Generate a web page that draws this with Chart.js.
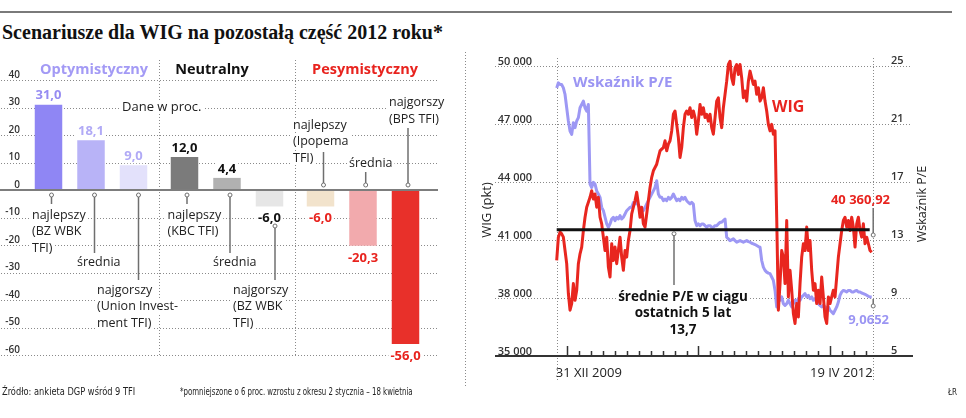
<!DOCTYPE html>
<html>
<head>
<meta charset="utf-8">
<script src="https://cdn.jsdelivr.net/npm/chart.js@4.4.0/dist/chart.umd.min.js"></script>
<style>
  body { margin: 0; width: 966px; height: 418px; overflow: hidden; background: #fff; font-family: 'Open Sans', sans-serif; }
  #rule { position: absolute; left: 0; top: 11px; width: 952px; height: 2px; background: #7a7a7a; }
  #title { position: absolute; left: 2px; top: 21px; font: bold 20px 'Liberation Serif', serif; color: #111; white-space: nowrap; }
  #left { position: absolute; left: 0; top: 0; }
  #right { position: absolute; left: 466px; top: 0; }
  .foot { position: absolute; top: 386px; font: 10px 'Liberation Sans Narrow', 'DejaVu Sans Condensed', sans-serif; color: #222; white-space: nowrap; transform-origin: 0 50%; }
</style>
</head>
<body>
<div id="rule"></div>
<div id="title">Scenariusze dla WIG na pozostałą część 2012 roku*</div>
<canvas id="left" width="466" height="418" style="width:466px;height:418px"></canvas>
<canvas id="right" width="500" height="418" style="width:500px;height:418px"></canvas>
<div class="foot" style="left:2px;transform:scaleX(0.92)">Źródło: ankieta DGP wśród 9 TFI</div>
<div class="foot" style="left:180px;transform:scaleX(0.78)">*pomniejszone o 6 proc. wzrostu z okresu 2 stycznia – 18 kwietnia</div>
<div class="foot" style="left:948px;font-size:8px;top:388px">ŁR</div>
<script>
// --- prognozy TFI (proc.) ---
const scenarios = ['Optymistyczny', 'Neutralny', 'Pesymistyczny'];
const bestValues = [31.0, 12.0, -6.0];
const averageValues = [18.1, 4.4, -20.3];
const worstValues = [9.0, -6.0, -56.0];
const bestFunds = [['najlepszy', '(BZ WBK', 'TFI)'], ['najlepszy', '(KBC TFI)'], ['najlepszy', '(Ipopema', 'TFI)']];
const averageFunds = [['średnia'], ['średnia'], ['średnia']];
const worstFunds = [['najgorszy', '(Union Invest-', 'ment TFI)'], ['najgorszy', '(BZ WBK', 'TFI)'], ['najgorszy', '(BPS TFI)']];
const forecastTicks = [40, 30, 20, 10, 0, -10, -20, -30, -40, -50, -60];

// --- WIG i P/E, 31 XII 2009 - 19 IV 2012 ---
const wigValues = [
  39940, 41140, 41400, 41310, 41140, 40450, 39770, 38230, 37370, 37710,
  38740, 37880, 38400, 39770, 40280, 40630, 41480, 42170, 42690, 42940,
  43200, 43540, 43110, 43370, 42690, 43200, 42170, 41830, 41140, 40450,
  41140, 39600, 39080, 40800, 39940, 40630, 39770, 40450, 41140, 40110,
  39430, 40450, 40110, 40970, 41480, 42340, 42690, 43030, 43460, 42860,
  42170, 42690, 41830, 41660, 42340, 43030, 43710, 44230, 44570, 44740,
  44910, 45260, 45600, 45690, 45770, 46120, 45600, 45950, 46120, 46630,
  47490, 47660, 46970, 46290, 45260, 45770, 46800, 47490, 47660, 47490,
  47830, 47320, 47660, 47320, 46460, 47140, 48000, 47490, 47830, 47320,
  47490, 47140, 47490, 46800, 46460, 47320, 48170, 48340,
  47320, 46800, 47830, 48520, 49200, 50060, 50230, 49370, 49030, 49890,
  50060, 49550, 50060, 49370, 48350, 48690, 48170, 49200, 49720, 49370,
  49030, 49200, 48520, 48860, 48170, 48350, 48860, 48170, 47660, 46970,
  46630, 46970, 46460, 46630, 42170, 37370, 38740, 40450, 40110, 38740,
  42000, 38050, 39430, 38400, 37200, 36680, 37710, 37020, 38740, 40110,
  40800, 40450, 41660, 40450, 40970, 39430, 38400, 38740, 37710, 38400,
  37710, 39080, 38050, 37020, 36680, 38050, 37710, 38050, 38400, 38050,
  39080, 40110, 40800, 41480, 42000, 42170, 41660, 42000, 41480, 42170,
  41660, 40630, 41830, 42170, 41480, 41140, 41830, 40800, 41140, 40800,
  40450, 40360.92
];
const peValues = [
  23.47, 23.82, 23.70, 23.70, 23.47, 23.02, 22.10, 21.19, 20.50, 20.27,
  21.07, 20.73, 21.19, 21.42, 22.10, 22.33, 22.56, 22.10, 21.87, 22.33,
  16.84, 16.61, 16.96, 16.84, 16.38, 16.16, 15.93, 15.24, 15.01, 14.56,
  14.10, 13.87, 14.10, 14.44, 14.56, 14.33, 14.56, 14.44, 14.67, 14.44,
  14.56, 14.78, 15.01, 15.13, 15.24, 15.24, 15.58, 15.47, 15.58, 15.36,
  15.24, 15.13, 15.01, 15.24, 15.47, 15.70, 15.93, 16.16, 16.38, 16.61,
  17.07, 16.16, 15.93, 15.93, 15.70, 15.81, 15.70, 15.93, 15.81, 15.93,
  16.16, 15.93, 15.70, 15.81, 15.70, 15.93, 15.81, 15.93, 15.70, 15.58,
  15.47, 15.58, 15.47, 14.33, 13.98, 14.10, 13.98, 14.10, 14.10, 13.98,
  13.87, 13.98, 13.98, 13.87, 13.87, 13.98, 13.98, 14.10,
  14.21, 14.21, 14.33, 14.44, 13.18, 13.07, 12.95, 13.00, 13.07, 12.95,
  12.84, 12.90, 12.95, 12.90, 12.84, 12.90, 12.95, 12.88, 12.84, 12.77,
  12.73, 12.68, 12.61, 12.54, 12.50, 11.58, 11.12, 10.90, 10.78, 10.71,
  10.67, 10.44, 10.21, 9.52, 8.38, 8.95, 8.84, 9.07, 8.61, 8.49,
  8.61, 8.84, 8.61, 8.38, 8.61, 8.84, 8.72, 8.95, 8.84, 9.07,
  9.18, 9.30, 9.07, 9.18, 8.95, 9.07, 8.84, 8.95, 8.72, 8.61,
  8.49, 8.38, 8.49, 8.38, 8.27, 8.38, 8.15, 8.04, 7.92, 8.15,
  8.38, 8.72, 9.18, 9.41, 9.52, 9.48, 9.41, 9.52, 9.52, 9.41,
  9.41, 9.48, 9.52, 9.41, 9.41, 9.34, 9.30, 9.25, 9.18, 9.11,
  9.07, 9.0652
];
const wigTicks = [35000, 38000, 41000, 44000, 47000, 50000];
const peTicks = [5, 9, 13, 17, 21, 25];
const avgPE = 13.7;
const dateLabels = ['31 XII 2009', '19 IV 2012'];

const plFixed = (v, d) => v.toFixed(d).replace('.', ',');
const plThousands = v => {
  const parts = v.toFixed(v % 1 ? 2 : 0).split('.');
  return parts[0].replace(/\B(?=(\d{3})+(?!\d))/g, ' ') + (parts[1] ? ',' + parts[1] : '');
};

function drawText(ctx, text, x, y, font, color, align, bg) {
  ctx.font = font;
  ctx.textAlign = align || 'left';
  ctx.textBaseline = 'middle';
  if (bg) {
    const w = ctx.measureText(text).width;
    const left = align === 'center' ? x - w / 2 : align === 'right' ? x - w : x;
    ctx.fillStyle = '#fff';
    ctx.fillRect(left - 2, y - 7, w + 4, 14);
  }
  ctx.fillStyle = color;
  ctx.fillText(text, x, y);
}

function dotted(ctx, x1, y1, x2, y2) {
  ctx.beginPath();
  ctx.setLineDash([1, 2]);
  ctx.lineWidth = 1;
  ctx.strokeStyle = '#8a8a8a';
  ctx.moveTo(x1, y1);
  ctx.lineTo(x2, y2);
  ctx.stroke();
  ctx.setLineDash([]);
}

function connector(ctx, x, yCircle, yEnd) {
  ctx.beginPath();
  ctx.strokeStyle = '#6f6f6f';
  ctx.lineWidth = 1.5;
  const dir = yEnd > yCircle ? 1 : -1;
  ctx.moveTo(x, yCircle + dir * 2);
  ctx.lineTo(x, yEnd);
  ctx.stroke();
  ctx.beginPath();
  ctx.lineWidth = 1;
  ctx.arc(x, yCircle, 2, 0, Math.PI * 2);
  ctx.fillStyle = '#fff';
  ctx.fill();
  ctx.stroke();
}

// ---------- lewy wykres: scenariusze ----------
const barColors = [
  ['#8f86f4', '#7b7b7b', '#f2e3cc'],
  ['#b8b3f7', '#b1b1b1', '#f2aaad'],
  ['#e3e1fb', '#e6e6e6', '#e8302a']
];
const valueColors = [
  ['#968cf2', '#111', '#e8231e'],
  ['#b1aaf6', '#111', '#e8231e'],
  ['#b1aaf6', '#111', '#e8231e']
];
const headerColors = ['#a39af5', '#111', '#e8231e'];
const headerShift = [3, -15, 2];
// rozmieszczenie opisów funduszy (względem środka słupka)
const noteLayout = [
  [{tx: -16.5, ty: [215, 231.5, 248], cx: 3, from: 195, to: 204},
   {tx: -17, ty: [215, 231.5], cx: 2.5, from: 195, to: 204},
   {tx: -27.5, ty: [125, 141.5, 158], cx: 3, from: 185, to: 152}],
  [{tx: -14, ty: [262], cx: 3.5, from: 195, to: 253},
   {tx: -14, ty: [262], cx: 3, from: 195, to: 253},
   {tx: -14, ty: [163], cx: 2.7, from: 185, to: 172}],
  [{tx: -36.5, ty: [290, 306.7, 323.3], cx: 5, from: 195, to: 280},
   {tx: -36.5, ty: [290, 306.7, 323.3], cx: 5.5, from: 226, to: 280},
   {tx: -16.5, ty: [102, 119], cx: 2.5, from: 185, to: 128}]
];
const fundNotes = [bestFunds, averageFunds, worstFunds];

const leftDecor = {
  id: 'leftDecor',
  beforeDatasetsDraw(chart) {
    const {ctx, scales: {x, y}} = chart;
    ctx.save();
    forecastTicks.forEach(v => {
      if (v === 0) return;
      const py = Math.round(y.getPixelForValue(v)) + 0.5;
      dotted(ctx, 1, py, 438, py);
    });
    for (let i = 0; i < scenarios.length - 1; i++) {
      const sx = Math.round((x.getPixelForValue(i) + x.getPixelForValue(i + 1)) / 2) + 0.5;
      dotted(ctx, sx, 60, sx, 357);
    }
    // separator between the two panels
    dotted(ctx, 465.5, 52, 465.5, 386);
    ctx.restore();
  },
  afterDatasetsDraw(chart) {
    const {ctx, scales: {x, y}} = chart;
    ctx.save();
    const y0 = Math.round(y.getPixelForValue(0));
    ctx.beginPath();
    ctx.strokeStyle = '#7d7d7d';
    ctx.lineWidth = 2;
    ctx.moveTo(0, y0);
    ctx.lineTo(438, y0);
    ctx.stroke();

    drawText(ctx, 'Dane w proc.', 122, 107, '13px "Open Sans"', '#222', 'left', true);

    scenarios.forEach((s, i) => {
      drawText(ctx, s, x.getPixelForValue(i) + headerShift[i], 70, 'bold 14.5px "Open Sans"', headerColors[i], 'center', true);
    });

    chart.data.datasets.forEach((ds, d) => {
      const meta = chart.getDatasetMeta(d);
      meta.data.forEach((bar, i) => {
        const v = ds.data[i];
        const ly = v >= 0 ? bar.y - 9 : bar.y + 12;
        drawText(ctx, plFixed(v, 1), bar.x, ly, 'bold 13px "Open Sans"', valueColors[d][i], 'center', true);
        const lay = noteLayout[d][i];
        connector(ctx, bar.x + lay.cx, lay.from, lay.to);
        fundNotes[d][i].forEach((line, k) => {
          drawText(ctx, line, bar.x + lay.tx, lay.ty[k], '12.5px "Open Sans"', '#222', 'left', true);
        });
      });
    });
    ctx.restore();
  }
};

new Chart(document.getElementById('left'), {
  type: 'bar',
  data: {
    labels: scenarios,
    datasets: [
      {label: 'najlepszy', data: bestValues, backgroundColor: barColors[0], categoryPercentage: 0.9375, barPercentage: 0.647},
      {label: 'średnia', data: averageValues, backgroundColor: barColors[1], categoryPercentage: 0.9375, barPercentage: 0.647},
      {label: 'najgorszy', data: worstValues, backgroundColor: barColors[2], categoryPercentage: 0.9375, barPercentage: 0.647}
    ]
  },
  options: {
    responsive: false,
    animation: false,
    events: [],
    devicePixelRatio: 1,
    layout: {padding: {left: 4, right: 35, top: 80, bottom: 63}},
    plugins: {legend: {display: false}, tooltip: {enabled: false}},
    scales: {
      x: {display: false},
      y: {
        min: -60, max: 40,
        afterBuildTicks: s => { s.ticks = forecastTicks.map(v => ({value: v})); },
        afterFit: s => { s.width = 19; },
        grid: {display: false, drawTicks: false},
        border: {display: false},
        ticks: {color: '#333', padding: 3, labelOffset: -5, font: {family: 'Open Sans', size: 10, weight: '600'}, callback: v => String(v)}
      }
    }
  },
  plugins: [leftDecor]
});

// ---------- prawy wykres: WIG i P/E ----------
const sampleLabels = wigValues.map((_, i) => i);
const monthTickStart = 6.2, monthTickStep = 7.17, monthTickCount = 26;

const rightDecor = {
  id: 'rightDecor',
  beforeDatasetsDraw(chart) {
    const {ctx, chartArea, scales: {x, y, y1}} = chart;
    ctx.save();
    wigTicks.forEach((v, i) => {
      const py = Math.round(y.getPixelForValue(v)) + 0.5;
      if (i > 0) dotted(ctx, 29, py, 444, py);
      drawText(ctx, plThousands(v), 66, py - 5, '600 11px "Open Sans"', '#333', 'right');
      drawText(ctx, String(peTicks[i]), 425, y1.getPixelForValue(peTicks[i]) - 5, '600 11px "Open Sans"', '#333', 'left');
    });
    const lx = Math.round(chartArea.left) + 0.5, rx = Math.round(chartArea.right) + 1.5;
    dotted(ctx, lx, 58, lx, 381);
    dotted(ctx, rx, 58, rx, 381);

    const base = Math.round(y.getPixelForValue(wigTicks[0]));
    ctx.beginPath();
    ctx.strokeStyle = '#333';
    ctx.lineWidth = 2;
    ctx.moveTo(29, base);
    ctx.lineTo(447, base);
    ctx.stroke();
    ctx.lineWidth = 1.5;
    for (let k = 0; k < monthTickCount; k++) {
      const tx = Math.round(x.getPixelForValue(monthTickStart + k * monthTickStep)) + 0.5;
      ctx.beginPath();
      ctx.moveTo(tx, base);
      ctx.lineTo(tx, base - (k % 11 === 0 ? 10 : 5));
      ctx.stroke();
    }
    drawText(ctx, dateLabels[0], chartArea.left - 1, 373, '13px "Open Sans"', '#222', 'left');
    drawText(ctx, dateLabels[1], chartArea.right + 1, 373, '13px "Open Sans"', '#222', 'right');

    ctx.save();
    ctx.translate(21, 210);
    ctx.rotate(-Math.PI / 2);
    drawText(ctx, 'WIG (pkt)', 0, 0, '13px "Open Sans"', '#222', 'center');
    ctx.restore();
    ctx.save();
    ctx.translate(456, 204);
    ctx.rotate(-Math.PI / 2);
    drawText(ctx, 'Wskaźnik P/E', 0, 0, '12.5px "Open Sans"', '#222', 'center');
    ctx.restore();
    ctx.restore();
  },
  afterDatasetsDraw(chart) {
    const {ctx, chartArea, scales: {y, y1}} = chart;
    ctx.save();
    const ay = y1.getPixelForValue(avgPE);
    ctx.beginPath();
    ctx.strokeStyle = '#111';
    ctx.lineWidth = 3;
    ctx.moveTo(chartArea.left, ay);
    ctx.lineTo(chartArea.right - 2, ay);
    ctx.stroke();

    connector(ctx, 208, ay + 4, 285);
    const noteFont = 'bold 13.5px "Open Sans"';
    drawText(ctx, 'średnie P/E w ciągu', 217, 296.7, noteFont, '#111', 'center', true);
    drawText(ctx, 'ostatnich 5 lat', 217, 312.7, noteFont, '#111', 'center', true);
    drawText(ctx, plFixed(avgPE, 1), 217, 330, noteFont, '#111', 'center', true);

    drawText(ctx, 'Wskaźnik P/E', 107, 83, 'bold 15px "Open Sans"', '#9b95f3', 'left');
    drawText(ctx, 'WIG', 306, 107, 'bold 16px "Open Sans"', '#e8231e', 'left');

    const rx = chartArea.right + 1.5;
    const lastWig = wigValues[wigValues.length - 1];
    const lastPE = peValues[peValues.length - 1];
    drawText(ctx, plThousands(lastWig), 424, 200, 'bold 13px "Open Sans"', '#e8231e', 'right');
    connector(ctx, rx, 235, 208);
    const py = y1.getPixelForValue(lastPE);
    connector(ctx, rx, py + 9, py + 2);
    drawText(ctx, plFixed(lastPE, 4), 423, 320, 'bold 13px "Open Sans"', '#9b95f3', 'right');
    ctx.restore();
  }
};

new Chart(document.getElementById('right'), {
  type: 'line',
  data: {
    labels: sampleLabels,
    datasets: [
      {label: 'WIG', data: wigValues, yAxisID: 'y', borderColor: '#e8261f', borderWidth: 3, pointRadius: 0, borderJoinStyle: 'round', clip: false},
      {label: 'Wskaźnik P/E', data: peValues, yAxisID: 'y1', borderColor: '#9d98f4', borderWidth: 3, pointRadius: 0, borderJoinStyle: 'round', clip: false}
    ]
  },
  options: {
    responsive: false,
    animation: false,
    events: [],
    devicePixelRatio: 1,
    layout: {padding: {left: 90.7, right: 94.3, top: 65.7, bottom: 62}},
    plugins: {legend: {display: false}, tooltip: {enabled: false}},
    scales: {
      x: {display: false},
      y: {display: false, min: 35000, max: 50000},
      y1: {display: false, position: 'right', min: 5, max: 25}
    }
  },
  plugins: [rightDecor]
});
</script>
</body>
</html>
